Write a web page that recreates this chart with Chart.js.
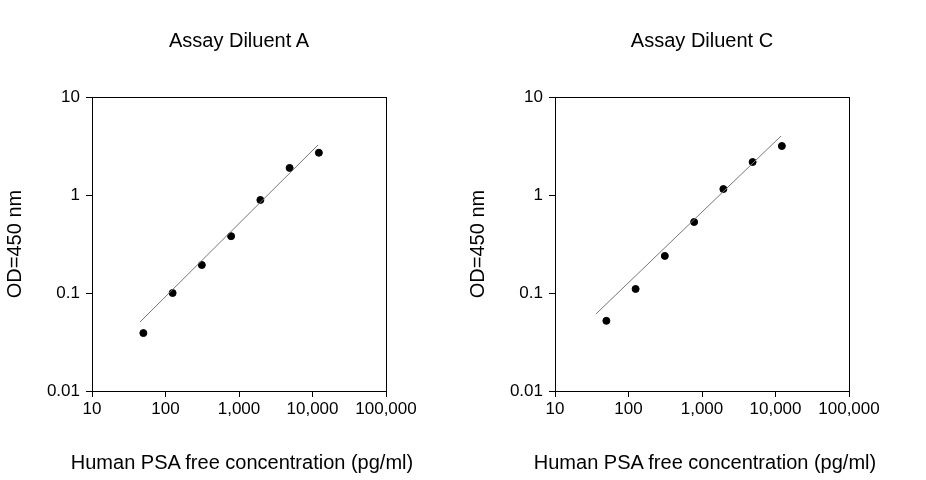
<!DOCTYPE html>
<html>
<head>
<meta charset="utf-8">
<script src="https://cdn.jsdelivr.net/npm/chart.js@4"></script>
<style>
  body { margin: 0; background: #fff; font-family: Arial, "Liberation Sans", sans-serif; }
  .wrap { display: flex; width: 926px; height: 480px; }
  .box { width: 463px; height: 480px; position: relative; }
  .box canvas { position: absolute; left: 0; top: 0; }
  .ttl { position: absolute; left: 0; width: 478px; text-align: center; font-size: 20px; color: #000; top: 29px; }
  .xt { position: absolute; left: 0; width: 484px; text-align: center; font-size: 20px; color: #000; top: 451px; white-space: nowrap; }
</style>
</head>
<body>
<div class="wrap">
  <div class="box"><canvas id="chartA"></canvas><div class="ttl">Assay Diluent A</div><div class="xt">Human PSA free concentration (pg/ml)</div></div>
  <div class="box"><canvas id="chartC"></canvas><div class="ttl">Assay Diluent C</div><div class="xt">Human PSA free concentration (pg/ml)</div></div>
</div>
<script>
// Standard concentrations (pg/ml)
const conc = [50, 125, 312, 781, 1953, 4883, 12207];
const odA = [0.039, 0.1, 0.193, 0.38, 0.89, 1.89, 2.7];
const odC = [0.052, 0.11, 0.239, 0.53, 1.15, 2.17, 3.16];
// Fit line end points
const fitA = [{ x: 45, y: 0.0506 }, { x: 11900, y: 3.24 }];
const fitC = [{ x: 36, y: 0.061 }, { x: 11900, y: 4.0 }];
const xTicks = [10, 100, 1000, 10000, 100000];
const yTicks = [0.01, 0.1, 1, 10];

const frame = {
  id: 'frame',
  afterDraw(chart) {
    const a = chart.chartArea, ctx = chart.ctx;
    ctx.save();
    ctx.strokeStyle = '#000';
    ctx.lineWidth = 1;
    ctx.strokeRect(Math.round(a.left) + 0.5, Math.round(a.top) + 0.5, Math.round(a.right - a.left), Math.round(a.bottom - a.top));
    ctx.restore();
  }
};

function makeChart(id, od, fit) {
  const font = { family: 'Arial, "Liberation Sans", sans-serif', size: 17 };
  new Chart(document.getElementById(id), {
    type: 'scatter',
    data: {
      datasets: [
        { data: fit, showLine: true, borderColor: '#777', borderWidth: 1, pointRadius: 0 },
        { data: conc.map((c, i) => ({ x: c, y: od[i] })), backgroundColor: '#000', borderColor: '#000', pointRadius: 3.5 }
      ]
    },
    options: {
      responsive: false,
      animation: false,
      layout: { padding: { left: 0, right: 77, top: 97, bottom: 0 } },
      plugins: { legend: { display: false }, tooltip: { enabled: false } },
      scales: {
        x: {
          type: 'logarithmic', min: 10, max: 100000,
          afterBuildTicks: s => { s.ticks = xTicks.map(v => ({ value: v })); },
          afterFit: s => { s.height = 89; },
          ticks: { color: '#000', font, maxRotation: 0, padding: 2,
            callback: v => v.toLocaleString('en-US') },
          grid: { drawOnChartArea: false, color: '#000', tickLength: 6 },
          border: { color: '#000' }
        },
        y: {
          type: 'logarithmic', min: 0.01, max: 10,
          afterBuildTicks: s => { s.ticks = yTicks.map(v => ({ value: v })); },
          afterFit: s => { s.width = 92; },
          ticks: { color: '#000', font, padding: 6, callback: v => String(v) },
          grid: { drawOnChartArea: false, color: '#000', tickLength: 6 },
          border: { color: '#000' },
          title: { display: true, text: 'OD=450 nm', color: '#000',
            font: { family: font.family, size: 20 }, padding: { top: 3, bottom: 0 } }
        }
      }
    },
    plugins: [frame]
  });
}

['chartA', 'chartC'].forEach(id => {
  const c = document.getElementById(id);
  c.width = 463; c.height = 480;
});
makeChart('chartA', odA, fitA);
makeChart('chartC', odC, fitC);
</script>
</body>
</html>
